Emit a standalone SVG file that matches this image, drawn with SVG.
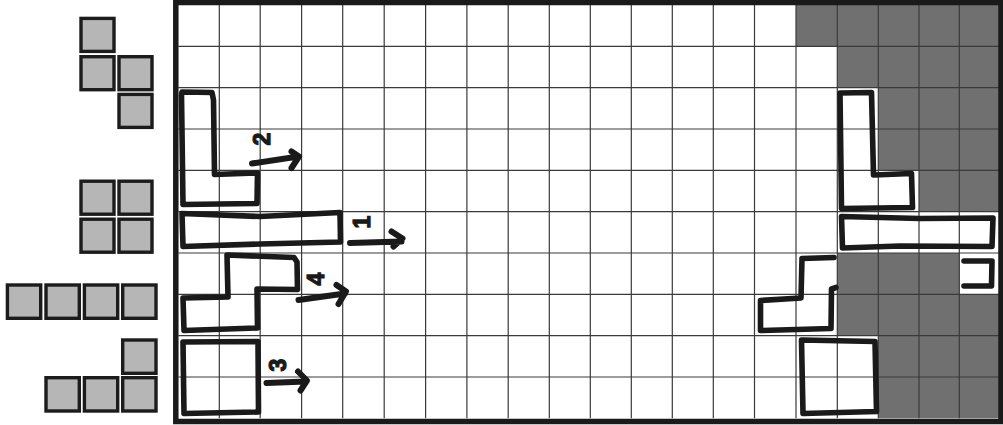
<svg xmlns="http://www.w3.org/2000/svg" width="1003" height="425" viewBox="0 0 1003 425">
<style>
.sq{fill:#b6b6b6;stroke:#1c1c1c;stroke-width:3.4}
.sh{fill:#707070}
.gl{stroke:#3a3a3a;stroke-width:1.2;fill:none}
.pc{fill:none;stroke:#1a1a1a;stroke-width:5.6;stroke-linejoin:round;stroke-linecap:round}
.ar{fill:none;stroke:#1a1a1a;stroke-width:6;stroke-linejoin:round;stroke-linecap:round}
.lb{font-family:"Liberation Sans",Arial,sans-serif;font-weight:bold;font-size:23px;fill:#1a1a1a;stroke:#1a1a1a;stroke-width:1.2;text-anchor:middle;dominant-baseline:central}
</style>
<rect width="1003" height="425" fill="#ffffff"/>

<g id="legend-s">
<rect class="sq" x="81" y="18.4" width="33" height="33"/>
<rect class="sq" x="81" y="56.7" width="33" height="33"/>
<rect class="sq" x="119" y="56.7" width="33" height="33"/>
<rect class="sq" x="119" y="94.4" width="33" height="33"/>
</g>
<g id="legend-o">
<rect class="sq" x="81" y="181.2" width="33" height="33"/>
<rect class="sq" x="119" y="181.2" width="33" height="33"/>
<rect class="sq" x="81" y="219.2" width="33" height="33"/>
<rect class="sq" x="119" y="219.2" width="33" height="33"/>
</g>
<g id="legend-i">
<rect class="sq" x="7.4" y="285" width="33.3" height="33.3"/>
<rect class="sq" x="46" y="285" width="33.3" height="33.3"/>
<rect class="sq" x="84.4" y="285" width="33.3" height="33.3"/>
<rect class="sq" x="122.7" y="285" width="33.3" height="33.3"/>
</g>
<g id="legend-l">
<rect class="sq" x="122.7" y="340" width="33.3" height="33.3"/>
<rect class="sq" x="46" y="377.7" width="33.3" height="33.3"/>
<rect class="sq" x="84.4" y="377.7" width="33.3" height="33.3"/>
<rect class="sq" x="122.7" y="377.7" width="33.3" height="33.3"/>
</g>

<g id="board">
<rect class="sh" x="796" y="5" width="203" height="41.3"/>
<rect class="sh" x="837.3" y="46.3" width="161.7" height="41.4"/>
<rect class="sh" x="878.3" y="87.7" width="120.7" height="82.6"/>
<rect class="sh" x="919" y="170.3" width="80" height="41.4"/>
<rect class="sh" x="837.3" y="253" width="122" height="41.3"/>
<rect class="sh" x="837.3" y="294.3" width="161.7" height="41.4"/>
<rect class="sh" x="878.3" y="335.7" width="120.7" height="82.6"/>
<path class="gl" d="M219.3,5V418.3M260.2,5V418.3M301.6,5V418.3M342.7,5V418.3M384.2,5V418.3M425.6,5V418.3M466.9,5V418.3M508.2,5V418.3M549.3,5V418.3M590.3,5V418.3M631.3,5V418.3M672.3,5V418.3M713.3,5V418.3M754.5,5V418.3M796,5V418.3M837.3,5V418.3M878.3,5V418.3M919,5V418.3M959.3,5V418.3"/>
<path class="gl" d="M178.3,46.3H999M178.3,87.7H999M178.3,129H999M178.3,170.3H999M178.3,211.7H999M178.3,253H999M178.3,294.3H999M178.3,335.7H999M178.3,377H999"/>
<rect x="175.8" y="2.5" width="825.2" height="419" fill="none" stroke="#1a1a1a" stroke-width="5.5"/>
</g>

<g id="piece-l-left"><path class="pc" d="M182,92 L212,92.5 L213.5,100 L214.5,174.5 L257.5,173 L257,203.5 L183,204.5 L181.5,95 Z"/></g>
<g id="piece-i-left"><path class="pc" d="M182,213.5 L260,216.5 L340,212.5 L340.5,242 L260,244 L183,246.5 Z"/></g>
<g id="piece-s-left"><path class="pc" d="M227,255 L294,257.5 L297,262 L297.5,289.5 L257,289 L257.5,328 L184,330.5 L183,298 L228,297 Z"/></g>
<g id="piece-o-left"><path class="pc" d="M183,342 L258,341.5 L258.5,412 L184,413.5 Z"/></g>

<g id="piece-l-right"><path class="pc" d="M840,93 L871.5,92.5 L873.5,175 L911.5,173.5 L912.5,207.5 L841.5,208.5 Z"/></g>
<g id="piece-i-right"><path class="pc" d="M841.5,216.5 L920,218.5 L993,218 L992,246.5 L900,246 L842.5,248 Z"/></g>
<g id="piece-s-right"><path class="pc" d="M834,257.5 L802,258.5 L801,298 L760.5,300.5 L760.5,330.5 L831,328.5 L831.5,289 L836,287.5"/></g>
<g id="piece-rest-right"><path class="pc" d="M964,261 L992,261 L991.5,286 L964,286"/></g>
<g id="piece-o-right"><path class="pc" d="M801.5,340 L875,341.5 L876.5,411.5 L803,413.5 Z"/></g>

<g id="labels">
<text class="lb" transform="translate(262,139) rotate(-90)">2</text>
<text class="lb" transform="translate(362,222) rotate(-90)">1</text>
<text class="lb" transform="translate(316,279) rotate(-90)">4</text>
<text class="lb" transform="translate(278,365) rotate(-90)">3</text>
</g>

<g id="connectors">
<path class="ar" d="M252,163.5 L298.5,156.5 M291.5,151.5 L299,156.5 L291.5,168"/>
<path class="ar" d="M350,243 L401.5,241.5 M391.5,231.5 L402.5,238.5 L393.5,246.5"/>
<path class="ar" d="M298.5,300 L345,293.5 M336.5,285 L346,291.5 L338.5,304"/>
<path class="ar" d="M266.5,383 L306,381.5 M298,371.5 L307,380.5 L300.5,390.5"/>
</g>
</svg>
